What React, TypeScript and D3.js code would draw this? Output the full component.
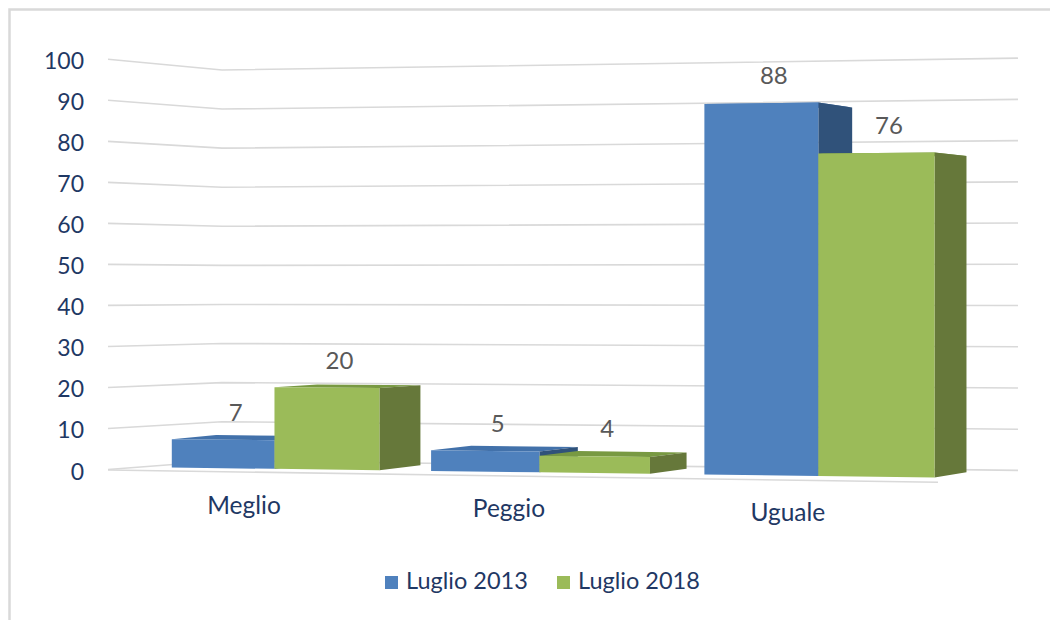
import React from 'react';
import * as d3 from 'd3';

const categories = ['Meglio', 'Peggio', 'Uguale'];
const seriesNames = ['Luglio 2013', 'Luglio 2018'];
const values2013 = [7, 5, 88];
const values2018 = [20, 4, 76];
const yTicks = [0, 10, 20, 30, 40, 50, 60, 70, 80, 90, 100];

const W = 1050;
const H = 620;
const FONT = 'Lato, "Open Sans", "Noto Sans", sans-serif';
const TEXT_COLOR = '#1F3864';
const GRID = '#d9d9d9';

const COLORS = [
  { front: '#4F81BD', top: '#4271AA', side: '#30527A' },
  { front: '#9BBB59', top: '#789942', side: '#66783A' },
];

// perspective constants
const X0 = 170;
const VX = 2895;
const VY = 285;
const TX = 0.0163;
const TY = 0.027;
const A = 7.2e-5;
const G = 1.1e-4;

const warpX = (u: number) => X0 + (u - X0) * (1 + G * (u - X0));
const barFlat = d3.scaleLinear().domain([0, 100]).range([467.5, 62]);
const frontY = (x: number, v: number) => VY + (barFlat(v) - VY) * (1 + A * (x - X0));
const back = (p: [number, number]): [number, number] => [p[0] + TX * (VX - p[0]), p[1] + TY * (VY - p[1])];

const axisY = d3.scaleLinear().domain([0, 100]).range([469.5, 59.3]);
const clusterX = d3.scalePoint<string>().domain(categories).range([273.8, 778.2]);
const seriesX = d3.scaleBand<string>().domain(seriesNames).range([-102, 101]);

const WALL_L = 108;
const WALL_C = 222;
const WALL_R = 1018;

const poly = (pts: [number, number][]) => 'M' + pts.map((p) => p.join(',')).join('L') + 'Z';

export default function App() {
  const seriesValues = [values2013, values2018];
  const line = d3.line<[number, number]>();

  const grid = yTicks.map((t) => {
    const y = axisY(t);
    const yc = y + 0.0474 * (VY - y);
    const yr = y + 0.005 * (y - VY);
    return { t, y, path: line([[WALL_L, y], [WALL_C, yc], [WALL_R, yr]]) as string };
  });

  const floorFront = line([[WALL_L, axisY(0) + 0.5], [938, 482.3]]) as string;

  const boxes: React.ReactNode[] = [];
  const labels: React.ReactNode[] = [];
  categories.forEach((c, ci) => {
    seriesNames.forEach((s, si) => {
      const v = seriesValues[si][ci];
      const u0 = (clusterX(c) as number) + (seriesX(s) as number);
      const u1 = u0 + seriesX.bandwidth();
      const L = warpX(u0);
      const R = warpX(u1);
      const TL: [number, number] = [L, frontY(L, v)];
      const TR: [number, number] = [R, frontY(R, v)];
      const BR: [number, number] = [R, frontY(R, 0)];
      const BL: [number, number] = [L, frontY(L, 0)];
      const col = COLORS[si];
      boxes.push(
        <g key={`${c}-${s}`}>
          <path d={poly([TL, TR, back(TR), back(TL)])} fill={col.top} />
          <path d={poly([TR, back(TR), back(BR), BR])} fill={col.side} />
          <path d={poly([TL, TR, BR, BL])} fill={col.front} />
        </g>
      );
      const cx = (L + R) / 2 + 12.5;
      const topY = frontY((L + R) / 2, v);
      labels.push(
        <text key={`l-${c}-${s}`} x={cx} y={topY - 19} textAnchor="middle" fontSize={24} fill="#595959" fontFamily={FONT}>
          {v}
        </text>
      );
    });
  });

  const catLabels = categories.map((c) => {
    const x = warpX(clusterX(c) as number) - 31;
    const y = 514 + ((x - 240) * 7) / 551;
    return (
      <text key={c} x={x} y={y} textAnchor="middle" fontSize={24.5} fill={TEXT_COLOR} fontFamily={FONT}>
        {c}
      </text>
    );
  });

  const legendItems = [
    { x: 385, tx: 406 },
    { x: 557, tx: 578 },
  ];

  return (
    <svg width={W} height={H} style={{ position: 'absolute', left: 0, top: 0, background: '#fff' }}>
      <rect x={9.5} y={9.5} width={W + 10} height={H + 10} fill="#fff" stroke={GRID} strokeWidth={2.5} />
      {grid.map((g) => (
        <path key={g.t} d={g.path} fill="none" stroke={GRID} strokeWidth={1.6} />
      ))}
      <path d={floorFront} fill="none" stroke={GRID} strokeWidth={1.6} />
      {grid.map((g) => (
        <text key={`t${g.t}`} x={84} y={g.y + 10} textAnchor="end" fontSize={23} fill={TEXT_COLOR} fontFamily={FONT}>
          {g.t}
        </text>
      ))}
      {boxes}
      {labels}
      {catLabels}
      {seriesNames.map((s, i) => (
        <g key={s}>
          <rect x={legendItems[i].x} y={576} width={13} height={13} fill={COLORS[i].front} />
          <text x={legendItems[i].tx} y={588.5} fontSize={23.5} fill={TEXT_COLOR} fontFamily={FONT}>
            {s}
          </text>
        </g>
      ))}
    </svg>
  );
}
